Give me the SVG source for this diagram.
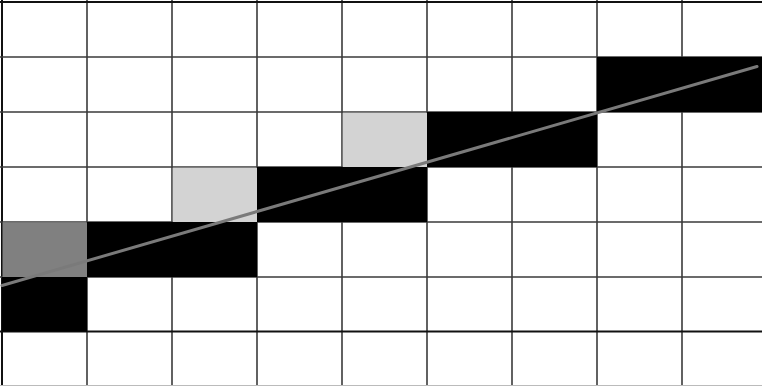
<svg xmlns="http://www.w3.org/2000/svg" width="762" height="386" viewBox="0 0 762 386">
<style>
.b{fill:#000}
.g{fill:#808080}
.lg{fill:#d3d3d3}
.grid line{stroke:#3a3a3a;stroke-width:1.6}
</style>
<rect width="762" height="386" fill="#fff"/>
<g class="grid" id="grid">
<line x1="2" y1="0" x2="2" y2="386" style="stroke-width:2;stroke:#111"/>
<line x1="87" y1="0" x2="87" y2="386"/>
<line x1="172" y1="0" x2="172" y2="386"/>
<line x1="257" y1="0" x2="257" y2="386"/>
<line x1="342" y1="0" x2="342" y2="386"/>
<line x1="427" y1="0" x2="427" y2="386"/>
<line x1="512" y1="0" x2="512" y2="386"/>
<line x1="597" y1="0" x2="597" y2="386"/>
<line x1="682" y1="0" x2="682" y2="386"/>
<line x1="0" y1="2" x2="762" y2="2" style="stroke-width:2;stroke:#111"/>
<line x1="0" y1="57" x2="762" y2="57"/>
<line x1="0" y1="112" x2="762" y2="112"/>
<line x1="0" y1="167" x2="762" y2="167"/>
<line x1="0" y1="222" x2="762" y2="222"/>
<line x1="0" y1="277" x2="762" y2="277"/>
<line x1="0" y1="331.5" x2="762" y2="331.5" style="stroke-width:2;stroke:#111"/>
<line x1="0" y1="385.5" x2="762" y2="385.5" style="stroke:#bbb;stroke-width:1"/>
</g>
<g id="cells">
<rect class="b" x="2" y="277" width="85" height="54.5"/>
<rect class="g" x="2.5" y="222.5" width="84.5" height="54.5"/>
<rect class="b" x="87" y="222" width="170" height="55"/>
<rect class="lg" x="172.8" y="167.8" width="84.2" height="54.2"/>
<rect class="b" x="257" y="167" width="170" height="55"/>
<rect class="lg" x="342.8" y="112.8" width="84.2" height="54.2"/>
<rect class="b" x="427" y="112" width="170" height="55"/>
<rect class="b" x="597" y="57" width="165" height="55"/>
</g>
<g id="connectors">
<line x1="2" y1="285.5" x2="757" y2="66.5" stroke="#7a7a7a" stroke-width="3" stroke-linecap="round"/>
</g>
</svg>
